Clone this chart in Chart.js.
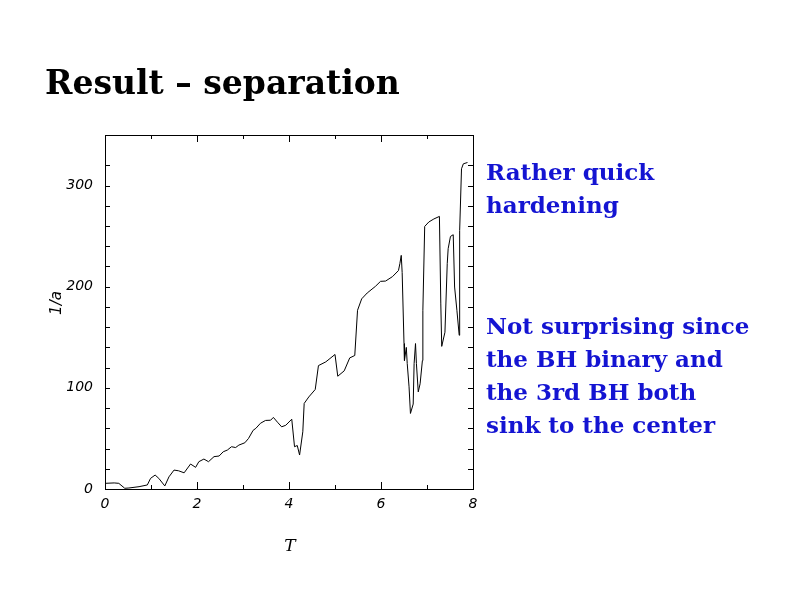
<!DOCTYPE html>
<html>
<head>
<meta charset="utf-8">
<script src="https://cdn.jsdelivr.net/npm/chart.js@4"></script>
<style>
  html, body { margin: 0; padding: 0; background: #fff; }
</style>
</head>
<body>
<canvas id="myChart" width="800" height="600"></canvas>
<script>
var tValues = [0, 0.2, 0.3, 0.43, 0.52, 0.74, 0.92, 0.99, 1.09, 1.17, 1.3, 1.39, 1.5, 1.6, 1.72, 1.86, 1.97,
  2.04, 2.15, 2.25, 2.37, 2.48, 2.57, 2.66, 2.75, 2.84, 2.91, 3.04, 3.12, 3.22, 3.28, 3.38, 3.49, 3.6, 3.66,
  3.75, 3.84, 3.93, 4.06, 4.12, 4.18, 4.23, 4.3, 4.33, 4.43, 4.57, 4.64, 4.8, 5.0, 5.06, 5.2, 5.32, 5.43,
  5.49, 5.58, 5.7, 5.88, 5.99, 6.1, 6.25, 6.38, 6.41, 6.44, 6.46, 6.5, 6.51, 6.55, 6.57, 6.61, 6.64, 6.7,
  6.72, 6.75, 6.77, 6.81, 6.85, 6.9, 6.91, 6.95, 7.04, 7.15, 7.27, 7.3, 7.32, 7.39, 7.44, 7.46, 7.51, 7.57,
  7.6, 7.65, 7.7, 7.71, 7.75, 7.79, 7.88];
var invA = [5.6, 6, 5.6, 0.7, 1, 2.3, 4, 10.5, 13.8, 10.5, 3, 12, 18.7, 18, 16, 24.7, 21.4,
  27, 29.6, 27, 32, 32.6, 36.8, 38.5, 41.8, 41, 43.4, 45.7, 50, 58, 60, 65, 67.8, 68, 70.8,
  66, 61.5, 63, 69, 41.8, 43, 33.6, 56.6, 84.6, 91, 98.4, 122, 125.7, 133, 111.5, 116.8, 129.6, 132,
  176.7, 188, 193.8, 200.4, 205.3, 205.6, 210, 216, 222.8, 231, 214, 143.8, 127, 140, 124, 101, 74.7, 84,
  124, 143.8, 124, 96, 104, 127, 176.7, 259.6, 264, 267, 269.5, 183, 141, 155, 222.8, 237.6, 249.7, 251.4,
  199.7, 176.7, 152, 255.7, 316.6, 321.5, 322.8];

var xLabelEvery = 2;
var yLabelEvery = 100;
var yTickStep = 20;

var titleText = 'Result \u2013 separation';
var noteTop = ['Rather quick', 'hardening'];
var noteBottom = ['Not surprising since', 'the BH binary and', 'the 3rd BH both', 'sink to the center'];
var xTitle = 'T';
var yTitle = '1/a';

var points = tValues.map(function (t, i) { return { x: t, y: invA[i] }; });

var frame = {
  id: 'frame',
  afterDraw: function (chart) {
    var ctx = chart.ctx;
    var a = chart.chartArea;
    var xs = chart.scales.x, ys = chart.scales.y;
    ctx.save();
    ctx.strokeStyle = '#000';
    ctx.lineWidth = 1;
    ctx.strokeRect(a.left + 0.5, a.top + 0.5, a.right - a.left, a.bottom - a.top);
    ctx.beginPath();
    xs.ticks.forEach(function (t) {
      var px = Math.round(xs.getPixelForValue(t.value)) + 0.5;
      var len = t.value % xLabelEvery === 0 ? 7 : 4;
      ctx.moveTo(px, a.bottom); ctx.lineTo(px, a.bottom - len);
      ctx.moveTo(px, a.top); ctx.lineTo(px, a.top + len);
    });
    ys.ticks.forEach(function (t) {
      if (t.value % yTickStep !== 0) return;
      var py = Math.round(ys.getPixelForValue(t.value)) + 0.5;
      ctx.moveTo(a.left, py); ctx.lineTo(a.left + 5, py);
      ctx.moveTo(a.right, py); ctx.lineTo(a.right - 5, py);
    });
    ctx.stroke();

    ctx.fillStyle = '#000';
    ctx.textBaseline = 'alphabetic';
    ctx.textAlign = 'left';
    ctx.font = 'bold 33px "DejaVu Serif"';
    ctx.fillText(titleText, 45, 94);

    ctx.fillStyle = '#1414d2';
    ctx.font = 'bold 23px "DejaVu Serif"';
    noteTop.forEach(function (s, i) { ctx.fillText(s, 486, 180 + i * 33); });
    noteBottom.forEach(function (s, i) { ctx.fillText(s, 486, 334 + i * 33); });

    ctx.fillStyle = '#000';
    ctx.textAlign = 'center';
    ctx.textBaseline = 'middle';
    ctx.font = 'italic 17px "DejaVu Serif"';
    ctx.fillText(xTitle, 290, 547);
    ctx.translate(57, 303);
    ctx.rotate(-Math.PI / 2);
    ctx.font = 'italic 15px "DejaVu Sans"';
    ctx.fillText(yTitle, 0, 0);
    ctx.restore();
  }
};

var config = {
  type: 'line',
  data: {
    datasets: [{
      data: points,
      borderColor: '#000',
      borderWidth: 1,
      pointRadius: 0,
      tension: 0,
      fill: false
    }]
  },
  options: {
    responsive: false,
    animation: false,
    devicePixelRatio: 1,
    layout: { padding: { left: 0, right: 327, top: 135, bottom: 0 } },
    plugins: { legend: { display: false }, tooltip: { enabled: false } },
    scales: {
      x: {
        type: 'linear',
        min: 0,
        max: 8,
        afterFit: function (s) { s.height = 111; },
        grid: { display: false, drawTicks: false },
        border: { display: false },
        ticks: {
          stepSize: 1,
          autoSkip: false,
          maxRotation: 0,
          padding: 7,
          color: '#000',
          font: { family: 'DejaVu Sans', style: 'italic', size: 14 },
          callback: function (v) { return v % xLabelEvery === 0 ? v : ''; }
        }
      },
      y: {
        min: 0,
        max: 350,
        afterFit: function (s) { s.width = 105; },
        grid: { display: false, drawTicks: false },
        border: { display: false },
        ticks: {
          stepSize: yTickStep,
          autoSkip: false,
          padding: 12,
          color: '#000',
          font: { family: 'DejaVu Sans', style: 'italic', size: 14 },
          callback: function (v) { return v % yLabelEvery === 0 ? v : ''; }
        }
      }
    }
  },
  plugins: [frame]
};

var ctx = document.getElementById('myChart').getContext('2d');
var grafica = new Chart(ctx, config);
</script>
</body>
</html>
